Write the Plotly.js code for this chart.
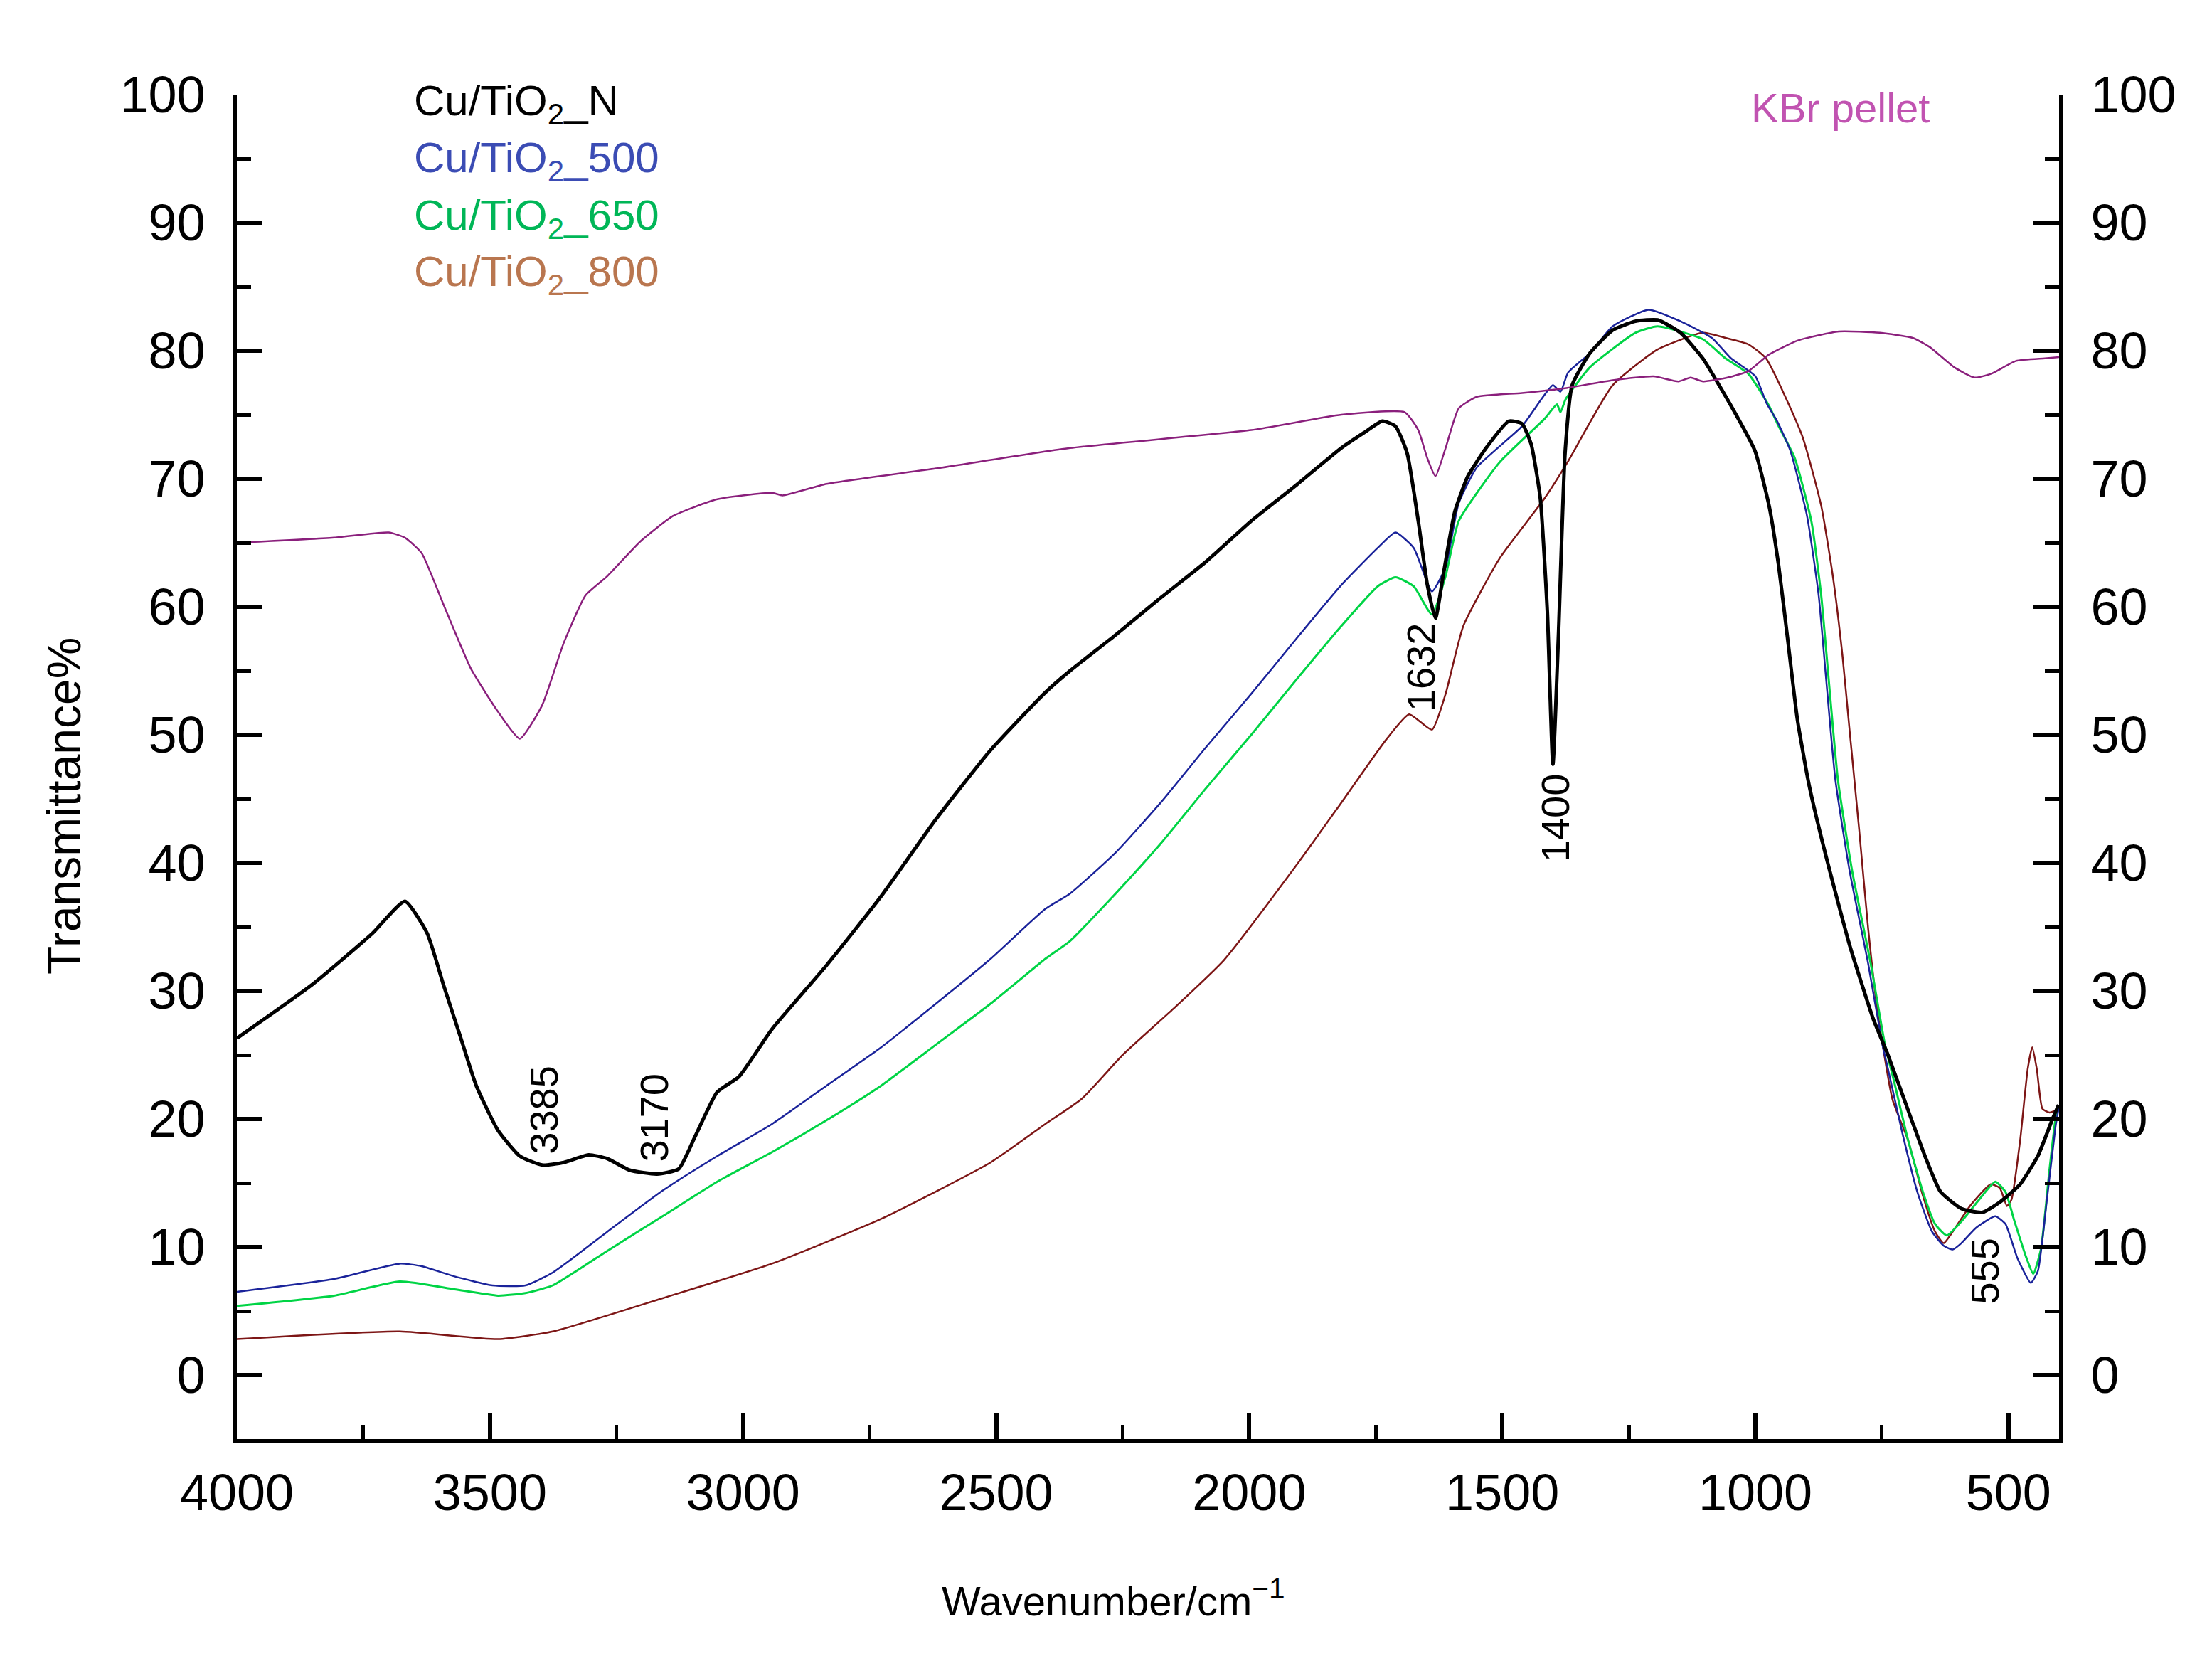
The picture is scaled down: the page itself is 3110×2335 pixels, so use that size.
<!DOCTYPE html>
<html>
<head>
<meta charset="utf-8">
<script src="https://cdn.plot.ly/plotly-3.0.1.min.js"></script>
<style>
  html, body { margin: 0; padding: 0; background: #fff; }
  #chart { width: 3110px; height: 2335px; }
</style>
</head>
<body>
<div id="chart"></div>
<script>
// FTIR spectra, values (wavenumber in cm-1, transmittance in %)
var wnN = [4000, 3851, 3732, 3668, 3624, 3592, 3559, 3527, 3484, 3441, 3397, 3354, 3305, 3268, 3224, 3170, 3127, 3095, 3051, 3008,
  2943, 2835, 2727, 2619, 2511, 2403, 2354, 2264, 2175, 2086, 1996, 1907, 1818, 1773, 1737, 1711, 1688, 1666, 1648, 1632,
  1617, 1594, 1568, 1532, 1487, 1461, 1443, 1425, 1411, 1400, 1389, 1376, 1362, 1327, 1282, 1237, 1193, 1148, 1104, 1048,
  1001, 973, 954, 936, 917, 894, 861, 814, 767, 739, 692, 663, 634, 593, 552, 517, 477, 442, 413, 401];
var tN = [26.3, 30.5, 34.5, 37.0, 34.5, 30.5, 26.5, 22.6, 19.1, 17.1, 16.4, 16.6, 17.2, 16.9, 16.0, 15.7, 16.1, 18.6, 22.1, 23.3,
  27.0, 32.0, 37.4, 43.4, 48.8, 53.3, 55.0, 57.8, 60.7, 63.5, 66.7, 69.5, 72.4, 73.6, 74.5, 74.1, 72.0, 66.7, 61.7, 59.1,
  62.4, 67.4, 70.2, 72.4, 74.5, 74.3, 72.7, 68.5, 59.6, 47.7, 57.8, 72.0, 77.3, 79.8, 81.6, 82.3, 82.4, 81.4, 79.4, 75.7,
  72.2, 67.9, 63.2, 57.4, 51.2, 46.1, 40.6, 33.6, 27.8, 25.1, 20.0, 16.9, 14.3, 13.0, 12.7, 13.5, 14.9, 17.1, 20.0, 21.1];

var wn500 = [4000, 3808, 3678, 3635, 3570, 3495, 3430, 3376, 3268, 3159, 3051, 2943, 2835, 2727, 2619, 2511, 2403, 2354, 2264, 2175,
  2086, 1996, 1907, 1818, 1746, 1711, 1675, 1639, 1612, 1586, 1550, 1461, 1400, 1385, 1370, 1327, 1282, 1211, 1148, 1086,
  1048, 1000, 978, 957, 931, 898, 875, 861, 842, 814, 777, 749, 738, 709, 680, 651, 628, 610, 593, 564,
  526, 506, 483, 456, 442, 424, 407, 400];
var t500 = [6.5, 7.5, 8.7, 8.5, 7.7, 7.0, 7.0, 8.0, 11.2, 14.4, 17.1, 19.6, 22.6, 25.6, 29.0, 32.5, 36.4, 37.6, 40.8, 44.7,
  49.0, 53.2, 57.5, 61.7, 64.6, 65.8, 64.6, 61.2, 63.1, 68.1, 70.9, 74.1, 77.3, 76.8, 78.3, 79.8, 81.9, 83.2, 82.3, 81.0,
  79.4, 78.0, 75.9, 74.5, 72.2, 67.1, 60.9, 54.7, 46.5, 39.4, 32.1, 25.8, 23.9, 18.8, 14.3, 11.2, 10.1, 9.8, 10.3, 11.5,
  12.4, 11.8, 9.2, 7.2, 8.1, 13.7, 19.4, 21.0];

var wn650 = [4000, 3808, 3678, 3570, 3484, 3430, 3376, 3268, 3159, 3051, 2943, 2835, 2727, 2619, 2511, 2403, 2354, 2264, 2175, 2086,
  1996, 1907, 1818, 1746, 1711, 1675, 1639, 1612, 1586, 1505, 1416, 1392, 1385, 1375, 1327, 1237, 1193, 1104, 1059, 1014,
  973, 954, 922, 889, 870, 856, 837, 809, 772, 744, 727, 698, 669, 645, 622, 593, 558, 526, 506, 488,
  465, 451, 436, 419, 407, 400];
var t650 = [5.4, 6.2, 7.3, 6.7, 6.2, 6.4, 7.0, 9.7, 12.4, 15.1, 17.4, 19.9, 22.6, 25.8, 29.0, 32.5, 33.9, 37.6, 41.5, 45.8,
  50.0, 54.3, 58.5, 61.6, 62.3, 61.6, 59.4, 62.4, 66.7, 71.3, 74.7, 75.8, 75.2, 76.2, 78.7, 81.4, 81.9, 80.9, 79.4, 78.2,
  75.7, 74.1, 71.6, 66.6, 60.9, 54.7, 46.5, 39.4, 32.1, 25.8, 23.1, 18.3, 14.3, 11.8, 10.9, 12.0, 13.7, 15.1, 14.3, 12.0,
  9.2, 7.9, 9.8, 16.0, 20.0, 21.0];

var wn800 = [4000, 3678, 3484, 3376, 3159, 2943, 2727, 2511, 2403, 2330, 2250, 2150, 2050, 1907, 1818, 1728, 1684, 1639, 1612, 1577,
  1505, 1416, 1371, 1282, 1193, 1104, 1059, 1014, 979, 908, 870, 847, 828, 814, 795, 777, 758, 729, 698, 669,
  645, 628, 605, 576, 535, 517, 503, 494, 477, 462, 453, 444, 433, 419, 400];
var t800 = [2.8, 3.4, 2.8, 3.4, 6.0, 8.7, 12.2, 16.6, 19.6, 21.6, 25.0, 28.6, 32.4, 39.8, 44.7, 49.7, 51.6, 50.4, 53.2, 58.5,
  63.8, 68.5, 71.3, 77.3, 80.1, 81.4, 81.0, 80.5, 79.4, 73.4, 67.9, 62.4, 56.2, 50.4, 42.6, 34.8, 28.2, 21.5, 18.3, 14.0,
  11.2, 10.3, 11.5, 13.2, 14.9, 14.6, 13.2, 13.7, 18.3, 23.9, 25.6, 23.9, 20.8, 20.5, 20.8];

var wnKBr = [4000, 3808, 3700, 3668, 3635, 3592, 3538, 3484, 3441, 3397, 3354, 3311, 3268, 3203, 3138, 3051, 2943, 2922, 2835, 2619,
  2354, 1996, 1818, 1693, 1666, 1648, 1632, 1612, 1586, 1550, 1461, 1371, 1282, 1201, 1152, 1128, 1103, 1055, 1014, 973,
  916, 835, 754, 689, 656, 607, 567, 534, 485, 428, 400];
var tKBr = [65.0, 65.4, 65.8, 65.4, 64.2, 60.2, 55.2, 51.8, 49.7, 52.3, 57.2, 60.9, 62.4, 65.1, 67.1, 68.4, 68.9, 68.7, 69.6, 70.8,
  72.4, 73.8, 75.0, 75.2, 73.8, 71.6, 70.2, 72.4, 75.5, 76.4, 76.7, 77.1, 77.7, 78.0, 77.6, 77.9, 77.6, 77.9, 78.4, 79.7,
  80.8, 81.5, 81.4, 81.0, 80.3, 78.7, 77.9, 78.2, 79.2, 79.4, 79.5];

// peak labels
var peakText = ['3385', '3170', '1632', '1400', '555'];
var peakX = [3394, 3176, 1661, 1396, 547];
var peakY = [20.7, 20.1, 55.3, 43.5, 8.1];

var sampleNames = ['Cu/TiO<sub>2</sub>_N', 'Cu/TiO<sub>2</sub>_500', 'Cu/TiO<sub>2</sub>_650', 'Cu/TiO<sub>2</sub>_800'];
var sampleTextColors = ['#000000', '#3b4cb4', '#00b657', '#b9764f'];

var sans = '"Liberation Sans", Arial, sans-serif';

function spectrum(x, y, name, color, width, axis) {
  return { x: x, y: y, yaxis: axis || 'y', mode: 'lines', type: 'scatter', name: name,
    line: { color: color, width: width, shape: 'spline', smoothing: 0.5 } };
}

var data = [
  spectrum(wnKBr, tKBr, 'KBr pellet', '#8a1f7c', 2.5, 'y2'),
  spectrum(wn800, t800, 'Cu/TiO2_800', '#7d1616', 2.5),
  spectrum(wn650, t650, 'Cu/TiO2_650', '#00d445', 3),
  spectrum(wn500, t500, 'Cu/TiO2_500', '#1a239a', 2.5),
  spectrum(wnN, tN, 'Cu/TiO2_N', '#000000', 5)
];

var annotations = [];
for (var i = 0; i < peakText.length; i++) {
  annotations.push({ x: peakX[i], y: peakY[i], text: peakText[i], showarrow: false, textangle: -90,
    xanchor: 'center', yanchor: 'middle', font: { family: sans, size: 56, color: '#000' } });
}
var legendY = [0.993, 0.951, 0.908, 0.866];
for (var j = 0; j < sampleNames.length; j++) {
  annotations.push({ xref: 'paper', yref: 'paper', x: 0.0964, y: legendY[j], xanchor: 'left', yanchor: 'middle',
    text: sampleNames[j], showarrow: false, font: { family: sans, size: 60, color: sampleTextColors[j] } });
}
annotations.push({ xref: 'paper', yref: 'paper', x: 0.88, y: 0.99, xanchor: 'center', yanchor: 'middle',
  text: 'KBr pellet', showarrow: false, font: { family: sans, size: 58, color: '#c153b1' } });
annotations.push({ xref: 'paper', yref: 'paper', x: 0.481, y: -0.118, xanchor: 'center', yanchor: 'middle',
  text: 'Wavenumber/cm<sup>\u22121</sup>', showarrow: false, font: { family: sans, size: 58, color: '#000' } });
annotations.push({ xref: 'paper', yref: 'paper', x: -0.0948, y: 0.471, xanchor: 'center', yanchor: 'middle',
  text: 'Transmittance%', showarrow: false, textangle: -90, font: { family: sans, size: 66, color: '#000' } });

var yAxisBase = {
  range: [-5, 100], tickmode: 'linear', tick0: 0, dtick: 10,
  ticks: 'inside', ticklen: 36, tickwidth: 6, tickcolor: '#000',
  minor: { ticks: 'inside', ticklen: 20, tickwidth: 5, tickcolor: '#000', dtick: 5, tick0: 0 },
  showline: true, linewidth: 6, linecolor: '#000',
  showgrid: false, zeroline: false,
  tickfont: { family: sans, size: 72, color: '#000' },
  ticklabelstandoff: 24
};

var layout = {
  width: 3110, height: 2335,
  margin: { l: 333, r: 215, t: 133, b: 312 },
  paper_bgcolor: '#fff', plot_bgcolor: '#fff',
  showlegend: false,
  xaxis: {
    range: [4000, 400], tickmode: 'linear', tick0: 500, dtick: 500,
    ticks: 'inside', ticklen: 36, tickwidth: 6, tickcolor: '#000',
    minor: { ticks: 'inside', ticklen: 20, tickwidth: 5, tickcolor: '#000', dtick: 250, tick0: 0 },
    showline: true, linewidth: 6, linecolor: '#000',
    showgrid: false, zeroline: false,
    tickfont: { family: sans, size: 72, color: '#000' },
    ticklabelstandoff: 8
  },
  yaxis: Object.assign({}, yAxisBase, { side: 'left' }),
  yaxis2: Object.assign({}, yAxisBase, { side: 'right', overlaying: 'y', anchor: 'x' }),
  annotations: annotations
};

Plotly.newPlot('chart', data, layout, { displayModeBar: false });
</script>
</body>
</html>
